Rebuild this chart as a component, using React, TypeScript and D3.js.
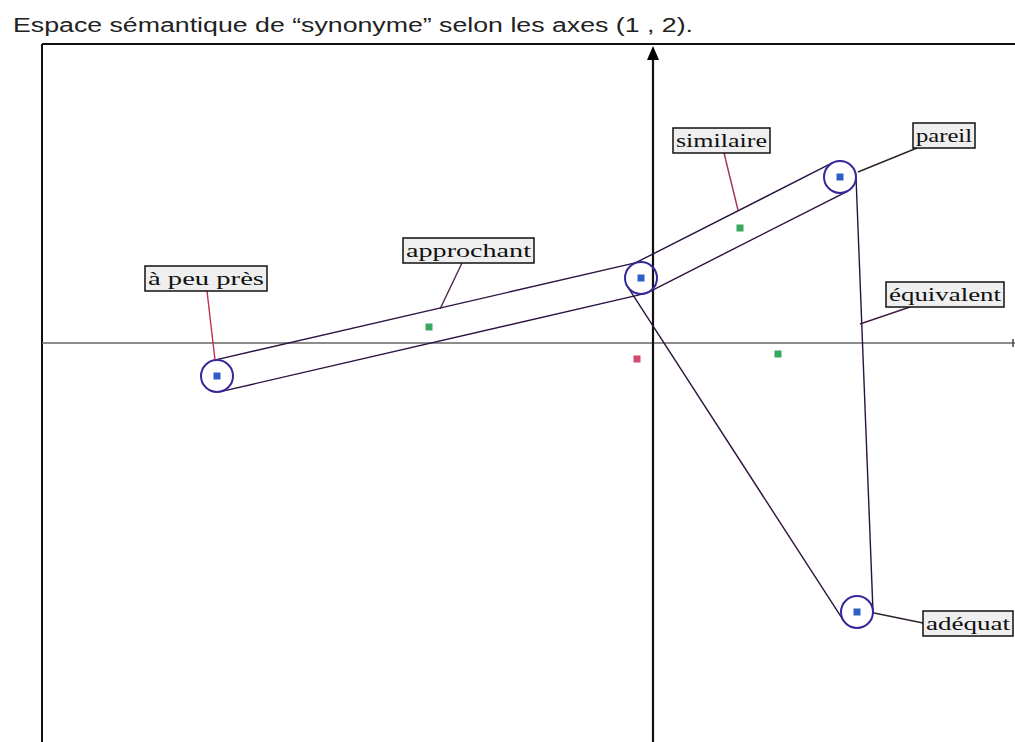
import React from "react";
import * as d3 from "d3";

// ---- data (factor coordinates, axes 1 & 2) ----
const titleText = "Espace sémantique de \u201csynonyme\u201d selon les axes (1 , 2).";
const wordNames = ["à peu près", "synonyme", "pareil", "adéquat"];
const wordX = [-2.18, -0.06, 0.935, 1.02];
const wordY = [-0.165, 0.325, 0.83, -1.345];
const greenX = [-1.12, 0.435, 0.625];
const greenY = [0.08, 0.575, -0.055];
const redX = [-0.08];
const redY = [-0.08];
// capsule links (both tangents) and single-tangent links [from, to, side]
const capsuleLinks = [[0, 1], [1, 2]];
const singleLinks = [[1, 3, 1], [2, 3, -1]];
const labelNames = ["à peu près", "approchant", "similaire", "pareil", "équivalent", "adéquat"];

// ---- layout (pixels) ----
const W = 1015, H = 742;
const frameLeft = 42, frameTop = 44;
const labelBoxes = [
  { x: 145, y: 266, w: 122, h: 25, l: [207, 291, 215, 360], c: "#c0304c" },
  { x: 403, y: 238, w: 131, h: 25, l: [462, 263, 440, 309], c: "#502048" },
  { x: 673, y: 128, w: 97, h: 25, l: [724, 153, 738, 210], c: "#a03050" },
  { x: 913, y: 123, w: 62, h: 25, l: [917, 148, 858, 172], c: "#302030" },
  { x: 886, y: 282, w: 118, h: 25, l: [910, 307, 860, 324], c: "#402040" },
  { x: 923, y: 611, w: 90, h: 25, l: [874, 613, 923, 623], c: "#302030" },
];

export default function App() {
  const x = d3.scaleLinear().domain([-3.055, 1.795]).range([frameLeft, 1012]);
  const y = d3.scaleLinear().domain([1.495, -1.995]).range([frameTop, H]);
  const r = 16;
  const ox = x(0), oy = y(0);

  const pts = wordX.map((v, i) => [x(v), y(wordY[i])]);
  const tangent = (a: number, b: number, side: number) => {
    const [x1, y1] = pts[a];
    const [x2, y2] = pts[b];
    const len = Math.hypot(x2 - x1, y2 - y1);
    const ux = (x2 - x1) / len, uy = (y2 - y1) / len;
    const nx = -uy * side * r, ny = ux * side * r;
    return [x1 + nx, y1 + ny, x2 + nx, y2 + ny];
  };
  const segs: number[][] = [];
  capsuleLinks.forEach(([a, b]) => {
    segs.push(tangent(a, b, 1));
    segs.push(tangent(a, b, -1));
  });
  singleLinks.forEach(([a, b, s]) => segs.push(tangent(a, b, s)));

  const sq = 7;
  return (
    <svg width={W} height={H} style={{ position: "absolute", left: 0, top: 0, background: "#fff" }}>
      <rect x={0} y={0} width={W} height={H} fill="#fff" />
      <text x={13} y={32} fontFamily="Liberation Sans, Arial, sans-serif" fontSize={20} fill="#222"
        textLength={680} lengthAdjust="spacingAndGlyphs">{titleText}</text>
      {/* frame */}
      <line x1={frameLeft} y1={frameTop} x2={W} y2={frameTop} stroke="#111" strokeWidth={2} />
      <line x1={frameLeft} y1={frameTop} x2={frameLeft} y2={H} stroke="#111" strokeWidth={2} />
      {/* axes */}
      <line x1={frameLeft} y1={oy} x2={W} y2={oy} stroke="#666" strokeWidth={1.5} />
      <line x1={1013} y1={oy - 4} x2={1013} y2={oy + 4} stroke="#444" strokeWidth={1.5} />
      <line x1={ox} y1={56} x2={ox} y2={H} stroke="#111" strokeWidth={2.2} />
      <path d={`M${ox},${frameTop + 2} L${ox - 6},${frameTop + 16} L${ox + 6},${frameTop + 16} Z`} fill="#000" />
      {/* tangent lines */}
      {segs.map((s, i) => (
        <line key={"s" + i} x1={s[0]} y1={s[1]} x2={s[2]} y2={s[3]} stroke="#2c1240" strokeWidth={1.4} />
      ))}
      {/* circles */}
      {pts.map((p, i) => (
        <circle key={"c" + i} cx={p[0]} cy={p[1]} r={r} fill="none" stroke="#35289a" strokeWidth={2} />
      ))}
      {/* points */}
      {pts.map((p, i) => (
        <rect key={"b" + i} x={p[0] - sq / 2} y={p[1] - sq / 2} width={sq} height={sq} fill="#2d5fc4" />
      ))}
      {greenX.map((v, i) => (
        <rect key={"g" + i} x={x(v) - sq / 2} y={y(greenY[i]) - sq / 2} width={sq} height={sq} fill="#36a85e" />
      ))}
      {redX.map((v, i) => (
        <rect key={"r" + i} x={x(v) - sq / 2} y={y(redY[i]) - sq / 2} width={sq} height={sq} fill="#d4486e" />
      ))}
      {/* labels */}
      {labelNames.map((name, i) => {
        const b = labelBoxes[i];
        return (
          <g key={"l" + i}>
            <line x1={b.l[0]} y1={b.l[1]} x2={b.l[2]} y2={b.l[3]} stroke={b.c} strokeWidth={1.4} />
            <rect x={b.x} y={b.y} width={b.w} height={b.h} fill="#efefef" stroke="#111" strokeWidth={1.5} />
            <text x={b.x + 3} y={b.y + 19} fontFamily="Liberation Serif, serif" fontSize={19} fill="#111"
              textLength={b.w - 6} lengthAdjust="spacingAndGlyphs">{name}</text>
          </g>
        );
      })}
    </svg>
  );
}
